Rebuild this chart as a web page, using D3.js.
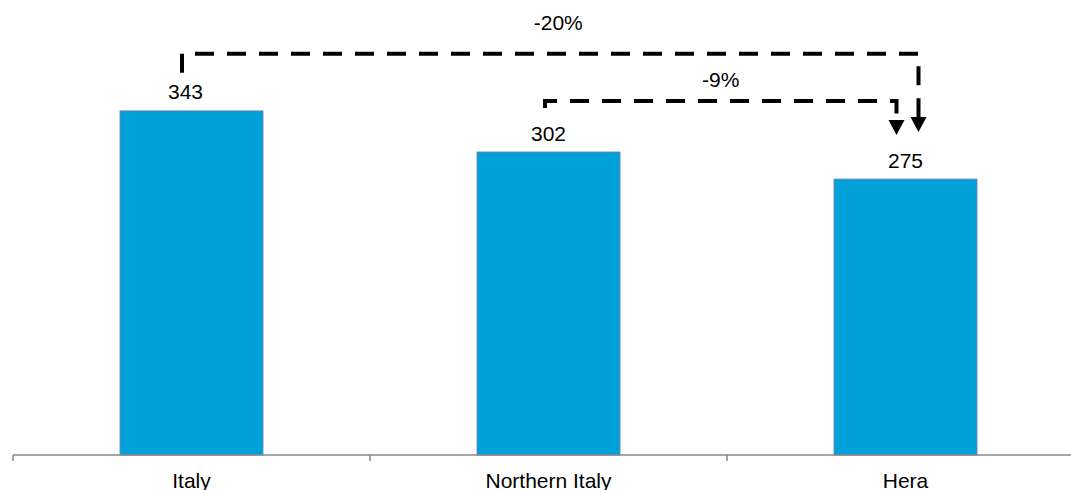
<!DOCTYPE html>
<html>
<head>
<meta charset="utf-8">
<script src="https://cdn.jsdelivr.net/npm/d3@7"></script>
<style>
  html, body { margin: 0; padding: 0; background: #fff; }
  svg { display: block; font-family: "Liberation Sans", Arial, sans-serif; }
</style>
</head>
<body>
<svg id="chart" width="1071" height="490"></svg>
<script>
const categories = ["Italy", "Northern Italy", "Hera"];
const values = [343, 302, 275];
const comparisons = [
  { from: "Italy", to: "Hera", label: "-20%", level: 400 },
  { from: "Northern Italy", to: "Hera", label: "-9%", level: 353 }
];

const W = 1071, H = 490;
const svg = d3.select("#chart");

const x = d3.scaleBand().domain(categories).range([13, 1084]).paddingInner(0.6).paddingOuter(0.3);
const y = d3.scaleLinear().domain([0, 400]).range([455, 53.8]);

// bars
svg.append("g").selectAll("rect").data(values).join("rect")
  .attr("x", (d, i) => x(categories[i]))
  .attr("y", d => y(d))
  .attr("width", x.bandwidth())
  .attr("height", d => y(0) - y(d))
  .attr("fill", "#00a0d8")
  .attr("stroke", "#4f81bd")
  .attr("stroke-width", 1);

// value labels
const labelShift = [-6, 0, 0];
svg.append("g").selectAll("text").data(values).join("text")
  .attr("x", (d, i) => x(categories[i]) + x.bandwidth() / 2 + labelShift[i])
  .attr("y", d => y(d) - 11.5)
  .attr("text-anchor", "middle")
  .attr("font-size", 21)
  .attr("fill", "#000")
  .text(d => d);

// axis line + boundary ticks
const ax = svg.append("g");
ax.append("line").attr("x1", 13).attr("x2", W).attr("y1", y(0)).attr("y2", y(0))
  .attr("stroke", "#888").attr("stroke-width", 1.5);
const step = x.step();
const boundaries = d3.range(categories.length + 1).map(i => 13 + i * step);
ax.selectAll("line.tick").data(boundaries).join("line").attr("class", "tick")
  .attr("x1", d => d).attr("x2", d => d)
  .attr("y1", y(0)).attr("y2", y(0) + 6)
  .attr("stroke", "#888").attr("stroke-width", 1.5);

// category labels
const xAxis = d3.axisBottom(x).tickSize(0).tickPadding(0);
const gx = svg.append("g").attr("transform", `translate(0,${y(0)})`).call(xAxis);
gx.select(".domain").remove();
gx.selectAll("text")
  .attr("font-size", 21)
  .attr("font-family", "Liberation Sans, Arial, sans-serif")
  .attr("fill", "#000")
  .attr("dy", null)
  .attr("y", 32.5);

// comparison arrows
const cx = c => x(c) + x.bandwidth() / 2;
const offsets = [
  { start: -9.5, end: 13, rise: 19, tip: 132, textDx: 8, textDy: -23.5 },
  { start: -3.5, end: -9, rise: 7, tip: 135, textDx: 0, textDy: -13.5 }
];
comparisons.forEach((c, i) => {
  const o = offsets[i];
  const x0 = cx(c.from) + o.start;
  const x1 = cx(c.to) + o.end;
  const yl = y(c.level);
  const headH = 15, headW = 16;
  svg.append("path")
    .attr("d", `M${x0},${yl + o.rise} V${yl} H${x1} V${o.tip - headH}`)
    .attr("fill", "none")
    .attr("stroke", "#000")
    .attr("stroke-width", 4)
    .attr("stroke-dasharray", "19,13");
  svg.append("path")
    .attr("d", `M${x1 - headW / 2},${o.tip - headH} L${x1 + headW / 2},${o.tip - headH} L${x1},${o.tip} Z`)
    .attr("fill", "#000");
  svg.append("text")
    .attr("x", (x0 + x1) / 2 + o.textDx)
    .attr("y", yl + o.textDy)
    .attr("text-anchor", "middle")
    .attr("font-size", 21)
    .attr("fill", "#000")
    .text(c.label);
});
</script>
</body>
</html>
